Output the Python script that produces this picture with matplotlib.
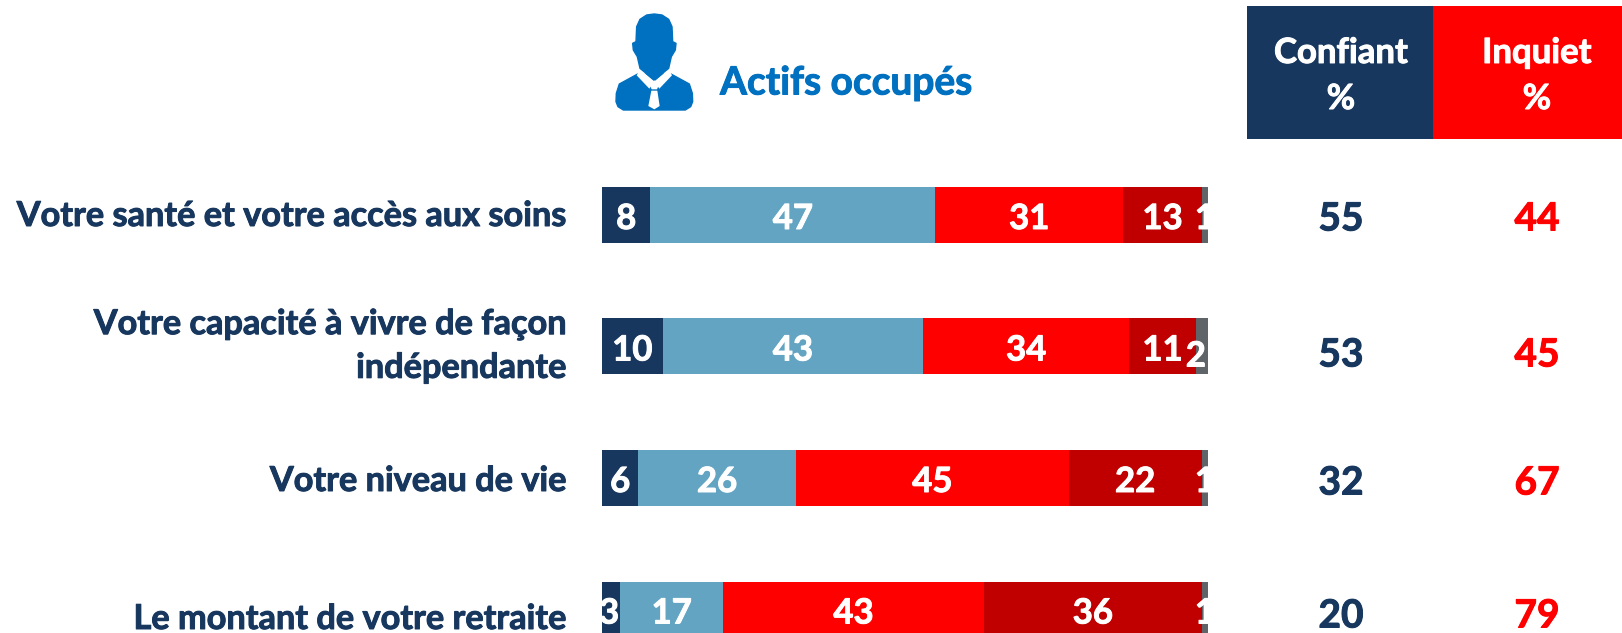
import matplotlib
matplotlib.use("Agg")
from matplotlib import pyplot as plt
from matplotlib import patheffects as pe
from matplotlib.patches import Polygon, Rectangle

plt.rcParams['font.family'] = ['Lato', 'DejaVu Sans']
plt.rcParams['font.weight'] = 'bold'

# donnees
categories = ["Votre santé et votre accès aux soins",
              "Votre capacité à vivre de façon\nindépendante",
              "Votre niveau de vie",
              "Le montant de votre retraite"]
tres_confiant = [8, 10, 6, 3]
assez_confiant = [47, 43, 26, 17]
assez_inquiet = [31, 34, 45, 43]
tres_inquiet = [13, 11, 22, 36]
nsp = [1, 2, 1, 1]
confiant = [55, 53, 32, 20]
inquiet = [44, 45, 67, 79]
series = [tres_confiant, assez_confiant, assez_inquiet, tres_inquiet, nsp]

# couleurs
NAVY = '#17375E'
BLEU = '#64A4C3'
ROUGE = '#FF0000'
ROUGE2 = '#C00000'
GRIS = '#5F6468'
TITRE = '#0070C0'
couleurs = [NAVY, BLEU, ROUGE, ROUGE2, GRIS]

W, H = 1622, 633
fig = plt.figure(figsize=(W / 100, H / 100), dpi=100)

# axe en pixels pour le decor et les textes
pix = fig.add_axes([0, 0, 1, 1])
pix.set_xlim(0, W)
pix.set_ylim(H, 0)
pix.axis('off')

# axe des barres : 0 -> x=602, 100 -> x=1208, lignes espacees de 131.5 px
ax = fig.add_axes([0, 0, 1, 1])
ax.patch.set_alpha(0)
px = (1208 - 602) / 100
ax.set_xlim(-602 / px, (W - 602) / px)
ax.set_ylim((H - 215) / 131.5, -215 / 131.5)
ax.axis('off')


# la police d'origine est plus grasse que Lato Bold
def gras(couleur, e=0.7):
    return [pe.withStroke(linewidth=e, foreground=couleur)]


# petits decalages des etiquettes de l'original (serie, ligne) -> pixels
decalage = {(4, 1): (-6, 6), (0, 3): (-2, 0)}

lignes = range(len(categories))
for i in lignes:
    gauche = 0
    for s, valeurs in enumerate(series):
        v = valeurs[i]
        ax.barh(i, v, left=gauche, height=56 / 131.5, color=couleurs[s])
        dx, dy = decalage.get((s, i), (0, 0))
        ax.annotate(str(v), (gauche + v / 2, i), xytext=(dx * 0.72, -(dy + 4) * 0.72),
                    textcoords='offset points', color='white', fontsize=25,
                    ha='center', va='center', path_effects=gras('white'))
        gauche += v

# libelles a gauche et totaux
label_y = [216, 346, 481, 619]
total_y = [219, 355, 483, 616]
for i in lignes:
    pix.text(566, label_y[i], categories[i], color=NAVY, fontsize=24.7,
             ha='right', va='center', linespacing=1.45, path_effects=gras(NAVY))
    pix.text(1341, total_y[i], str(confiant[i]), color=NAVY, fontsize=28,
             ha='center', va='center', path_effects=gras(NAVY))
    pix.text(1537, total_y[i], str(inquiet[i]), color=ROUGE, fontsize=28,
             ha='center', va='center', path_effects=gras(ROUGE))

# entetes
pix.add_patch(Rectangle((1247, 6), 186, 133, color=NAVY, lw=0))
pix.add_patch(Rectangle((1433, 6), 189, 133, color=ROUGE, lw=0))
pix.text(1341, 76, "Confiant\n%", color='white', fontsize=25, ha='center',
         va='center', linespacing=1.54, path_effects=gras('white'))
pix.text(1537, 76, "Inquiet\n%", color='white', fontsize=25, ha='center',
         va='center', linespacing=1.54, path_effects=gras('white'))

pix.text(720, 83, "Actifs occupés", color=TITRE, fontsize=28, ha='left', va='center',
         path_effects=gras(TITRE))


def icone(points, couleur, trait=0.0):
    pts = [(590 + x / 3, y / 3) for x, y in points]
    pix.add_patch(Polygon(pts, closed=True, facecolor=couleur, edgecolor=couleur,
                          lw=trait, joinstyle='round'))


corps = [(143, 222), (88, 252), (79, 280), (78, 305), (84, 320), (100, 330),
         (286, 330), (302, 320), (308, 305), (307, 280), (298, 252), (243, 222)]
tete = [(193, 42), (170, 45), (150, 58), (140, 80), (138, 125), (128, 130),
        (130, 150), (142, 170), (150, 205), (193, 240), (236, 205), (244, 170),
        (256, 150), (258, 130), (248, 125), (246, 80), (236, 58), (216, 45)]
col_g = [(150, 208), (140, 226), (178, 266), (193, 244)]
col_d = [(236, 208), (246, 226), (208, 266), (193, 244)]
noeud = [(178, 252), (193, 241), (208, 252), (201, 268), (185, 268)]
cravate = [(184, 272), (202, 272), (209, 318), (193, 328), (175, 318)]

icone(corps, TITRE, 1.0)
icone(col_g, 'white')
icone(col_d, 'white')
icone(tete, TITRE, 1.0)
icone(noeud, 'white')
icone(cravate, 'white')

fig.savefig('out.png', dpi=100)
